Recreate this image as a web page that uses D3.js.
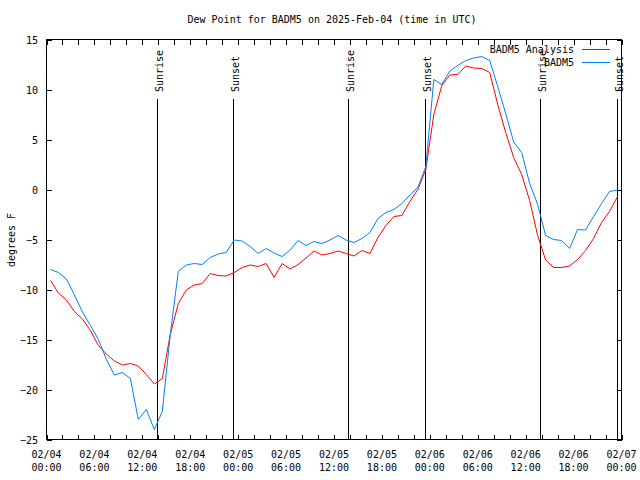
<!DOCTYPE html>
<html><head><meta charset="utf-8">
<script src="https://cdn.jsdelivr.net/npm/d3@7"></script>
<style>
html,body{margin:0;padding:0;background:#fff;}
svg{display:block;font-family:"DejaVu Sans Mono",monospace;font-size:10px;}
</style></head>
<body><div id="chart"></div>
<script>
const title = "Dew Point for BADM5 on 2025-Feb-04 (time in UTC)";
const yLabel = "degrees F";
const seriesNames = ["BADM5 Analysis", "BADM5"];
const seriesColors = ["#ff0000", "#0080ff"];
const startTime = Date.UTC(2025, 1, 4, 0, 30);
const analysisValues = [
 -9.1,-10.35,-11.05,-12.2,-12.95,-14.1,-15.6,-16.45,-17.15,-17.55,-17.4,-17.65,
 -18.5,-19.45,-18.9,-14.5,-11.4,-10.05,-9.55,-9.4,-8.4,-8.6,-8.65,-8.3,
 -7.8,-7.55,-7.7,-7.4,-8.8,-7.4,-7.95,-7.5,-6.85,-6.15,-6.55,-6.4,
 -6.15,-6.4,-6.65,-6.1,-6.4,-4.8,-3.6,-2.7,-2.6,-1.2,0.0,2.0,
 7.5,10.4,11.45,11.5,12.35,12.15,12.1,11.7,8.5,5.7,3.2,1.5,
 -1.1,-4.6,-7.05,-7.8,-7.8,-7.65,-7.0,-6.1,-4.9,-3.3,-2.2,-0.7
];
const stationValues = [
 -8.0,-8.3,-8.95,-10.55,-12.25,-13.6,-15.0,-17.0,-18.55,-18.3,-18.9,-23.0,
 -22.0,-24.0,-22.2,-14.5,-8.2,-7.55,-7.4,-7.5,-6.8,-6.45,-6.3,-5.05,
 -5.15,-5.7,-6.4,-5.9,-6.35,-6.7,-6.05,-5.1,-5.6,-5.2,-5.4,-5.05,
 -4.6,-5.05,-5.3,-4.9,-4.3,-2.9,-2.3,-2.0,-1.4,-0.55,0.2,2.3,
 11.0,10.5,11.85,12.4,12.9,13.15,13.3,12.9,10.3,7.6,4.75,3.7,
 0.6,-1.5,-4.6,-5.0,-5.1,-5.9,-4.0,-4.05,-2.7,-1.4,-0.2,-0.05
];
const sunEvents = [
 {label:"Sunrise", time:"2025-02-04T13:47:00Z"},
 {label:"Sunset",  time:"2025-02-04T23:19:00Z"},
 {label:"Sunrise", time:"2025-02-05T13:46:00Z"},
 {label:"Sunset",  time:"2025-02-05T23:20:00Z"},
 {label:"Sunrise", time:"2025-02-06T13:45:00Z"},
 {label:"Sunset",  time:"2025-02-06T23:24:00Z"}
];
const yTicks = [15,10,5,0,-5,-10,-15,-20,-25];
const xDomain = [new Date(Date.UTC(2025,1,4)), new Date(Date.UTC(2025,1,7))];

const W = 640, H = 480;
const L = 46.5, R = 621.5, T = 39.5, B = 439.5;
const svg = d3.select("#chart").append("svg").attr("width", W).attr("height", H);

const x = d3.scaleUtc().domain(xDomain).range([L, R]);
const y = d3.scaleLinear().domain([-25, 15]).range([B, T]);

const times = analysisValues.map((_, i) => new Date(startTime + i * 3600e3));

// Title
svg.append("text").attr("x", 332).attr("y", 23).attr("text-anchor", "middle").text(title);
// Y label
svg.append("text").attr("transform", "translate(15,240) rotate(-90)")
  .attr("text-anchor", "middle").text(yLabel);

const fmtD = d3.utcFormat("%m/%d"), fmtT = d3.utcFormat("%H:%M");
const xTickVals = d3.utcHour.every(2).range(xDomain[0], d3.utcHour.offset(xDomain[1], 1));

// axes
const axB = d3.axisBottom(x).tickValues(xTickVals).tickSize(-5).tickFormat("");
const axT = d3.axisTop(x).tickValues(xTickVals).tickSize(-5).tickFormat("");
const axL = d3.axisLeft(y).tickValues(yTicks).tickSize(-5).tickPadding(8).tickFormat(d3.format("d"));
const axR = d3.axisRight(y).tickValues(yTicks).tickSize(-5).tickFormat("");

function styleAxis(g){
  g.select(".domain").remove();
  g.selectAll("line").attr("stroke", "#000").attr("shape-rendering", "crispEdges");
  g.selectAll("text").attr("font-family", "DejaVu Sans Mono, monospace").attr("font-size", 10).attr("fill", "#000");
}
svg.append("g").attr("transform", `translate(0,${B})`).call(axB).call(styleAxis);
svg.append("g").attr("transform", `translate(0,${T})`).call(axT).call(styleAxis);
svg.append("g").attr("transform", `translate(${L},0)`).call(axL).call(styleAxis)
  .selectAll("text").attr("x", -8.5).attr("dy", "0.35em");
svg.append("g").attr("transform", `translate(${R},0)`).call(axR).call(styleAxis);

// x tick labels (two lines) every 6 hours
const labTicks = xTickVals.filter(d => d.getUTCHours() % 6 === 0);
const xl = svg.append("g");
labTicks.forEach(d => {
  const t = xl.append("text").attr("text-anchor", "middle");
  t.append("tspan").attr("x", x(d)).attr("y", 458).text(fmtD(d));
  t.append("tspan").attr("x", x(d)).attr("y", 471).text(fmtT(d));
});

// Sun lines
const sg = svg.append("g");
sunEvents.forEach(e => {
  const xx = Math.round(x(new Date(e.time))) + 0.5;
  sg.append("line").attr("x1", xx).attr("x2", xx).attr("y1", 99).attr("y2", B)
    .attr("stroke", "#000").attr("shape-rendering", "crispEdges");
  sg.append("text").attr("transform", `translate(${xx + 5},92) rotate(-90)`)
    .attr("text-anchor", "start").text(e.label);
});

// data lines
const line = d3.line().x((d, i) => x(times[i])).y(d => y(d));
[analysisValues, stationValues].forEach((vals, k) => {
  svg.append("path").datum(vals).attr("d", line).attr("fill", "none")
    .attr("stroke", seriesColors[k]).attr("stroke-width", 1);
});

// border
svg.append("rect").attr("x", L).attr("y", T).attr("width", R - L).attr("height", B - T)
  .attr("fill", "none").attr("stroke", "#000").attr("shape-rendering", "crispEdges");

// legend
const lg = svg.append("g");
seriesNames.forEach((n, i) => {
  const yy = 49.5 + i * 13;
  lg.append("text").attr("x", 574).attr("y", yy).attr("dy", "0.35em")
    .attr("text-anchor", "end").text(n);
  lg.append("line").attr("x1", 582).attr("x2", 610).attr("y1", yy).attr("y2", yy)
    .attr("stroke", seriesColors[i]).attr("shape-rendering", "crispEdges");
});
</script></body></html>
